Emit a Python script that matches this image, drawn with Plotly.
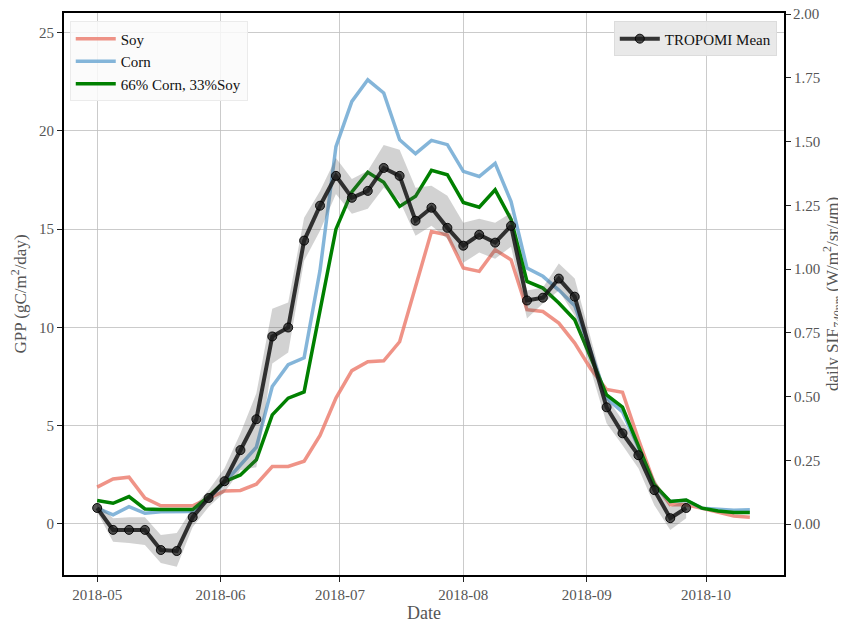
import plotly.graph_objects as go

dates = ["2018-05-01", "2018-05-05", "2018-05-09", "2018-05-13", "2018-05-17", "2018-05-21",
         "2018-05-25", "2018-05-29", "2018-06-02", "2018-06-06", "2018-06-10", "2018-06-14",
         "2018-06-18", "2018-06-22", "2018-06-26", "2018-06-30", "2018-07-04", "2018-07-08",
         "2018-07-12", "2018-07-16", "2018-07-20", "2018-07-24", "2018-07-28", "2018-08-01",
         "2018-08-05", "2018-08-09", "2018-08-13", "2018-08-17", "2018-08-21", "2018-08-25",
         "2018-08-29", "2018-09-02", "2018-09-06", "2018-09-10", "2018-09-14", "2018-09-18",
         "2018-09-22", "2018-09-26", "2018-09-30", "2018-10-04", "2018-10-08", "2018-10-12"]

soy_gpp = [1.87, 2.29, 2.38, 1.31, 0.92, 0.92, 0.92, 1.30, 1.68, 1.70, 2.02, 2.92,
           2.92, 3.19, 4.50, 6.40, 7.80, 8.25, 8.30, 9.27, 12.1, 14.88, 14.70, 13.02,
           12.85, 13.95, 13.44, 10.90, 10.81, 10.22, 9.20, 7.90, 6.84, 6.70, 4.30, 2.07,
           0.97, 0.97, 0.80, 0.60, 0.40, 0.34]

corn_gpp = [0.80, 0.46, 0.88, 0.54, 0.62, 0.63, 0.63, 1.30, 2.10, 3.00, 3.90, 6.99,
            8.10, 8.45, 12.9, 19.20, 21.50, 22.60, 21.93, 19.55, 18.84, 19.52, 19.30, 17.94,
            17.68, 18.35, 16.40, 13.02, 12.60, 11.90, 11.10, 8.80, 6.40, 5.70, 3.90, 1.90,
            1.14, 1.20, 0.80, 0.75, 0.70, 0.72]

mix_gpp = [1.19, 1.05, 1.39, 0.76, 0.73, 0.73, 0.73, 1.39, 2.15, 2.49, 3.26, 5.55,
           6.40, 6.72, 10.9, 15.00, 16.90, 17.89, 17.38, 16.16, 16.67, 17.99, 17.77, 16.36,
           16.12, 17.00, 15.50, 12.34, 12.00, 11.24, 10.39, 8.50, 6.57, 5.94, 3.94, 1.99,
           1.14, 1.22, 0.80, 0.66, 0.58, 0.58]

tropomi_sif = [0.063, -0.023, -0.023, -0.023, -0.102, -0.106, 0.027, 0.102, 0.168, 0.290,
               0.411, 0.736, 0.771, 1.112, 1.249, 1.366, 1.280, 1.307, 1.397, 1.366,
               1.190, 1.241, 1.162, 1.092, 1.135, 1.104, 1.170, 0.877, 0.888, 0.963,
               0.892, None, 0.458, 0.356, 0.270, 0.133, 0.023, 0.063]

tropomi_upper = [0.082, 0.023, 0.027, 0.027, -0.043, -0.035, 0.063, 0.133, 0.219, 0.356,
                 0.513, 0.845, 0.869, 1.202, 1.307, 1.436, 1.354, 1.386, 1.487, 1.468,
                 1.319, 1.327, 1.288, 1.182, 1.198, 1.182, 1.221, 0.916, 0.928, 1.022,
                 0.963, None, 0.497, 0.407, 0.309, 0.180, 0.067, 0.094]

tropomi_lower = [0.047, -0.070, -0.074, -0.082, -0.153, -0.168, -0.012, 0.067, 0.125, 0.211,
                 0.223, 0.630, 0.673, 1.033, 1.151, 1.295, 1.217, 1.237, 1.319, 1.268,
                 1.131, 1.170, 1.119, 1.025, 1.065, 1.041, 1.088, 0.806, 0.865, 0.916,
                 0.818, None, 0.395, 0.309, 0.219, 0.074, -0.023, 0.023]

gpp_ticks = [0, 5, 10, 15, 20, 25]
sif_ticks = [0.0, 0.25, 0.5, 0.75, 1.0, 1.25, 1.5, 1.75, 2.0]
sif_top_tick = 2.0
date_ticks = ["2018-05-01", "2018-06-01", "2018-07-01", "2018-08-01", "2018-09-01", "2018-10-01"]

# keep only valid TROPOMI observations
valid = [i for i, v in enumerate(tropomi_sif) if v is not None]
t_dates = [dates[i] for i in valid]
t_mean = [tropomi_sif[i] for i in valid]
t_up = [tropomi_upper[i] for i in valid]
t_lo = [tropomi_lower[i] for i in valid]

FONT = "Liberation Serif"
GRAY = "#555555"

fig = go.Figure()

fig.add_trace(go.Scatter(x=dates, y=soy_gpp, mode="lines", name="Soy",
                         line=dict(color="rgba(235,120,105,0.8)", width=3.5),
                         legend="legend"))
fig.add_trace(go.Scatter(x=dates, y=corn_gpp, mode="lines", name="Corn",
                         line=dict(color="rgba(110,168,210,0.85)", width=3.5),
                         legend="legend"))
fig.add_trace(go.Scatter(x=dates, y=mix_gpp, mode="lines", name="66% Corn, 33%Soy",
                         line=dict(color="#008000", width=3.5),
                         legend="legend"))

fig.add_trace(go.Scatter(x=t_dates, y=t_lo, mode="lines", yaxis="y2",
                         line=dict(width=0, color="rgba(0,0,0,0)"),
                         showlegend=False, hoverinfo="skip"))
fig.add_trace(go.Scatter(x=t_dates, y=t_up, mode="lines", yaxis="y2",
                         line=dict(width=0, color="rgba(0,0,0,0)"),
                         fill="tonexty", fillcolor="rgba(80,80,80,0.26)",
                         showlegend=False, hoverinfo="skip"))
fig.add_trace(go.Scatter(x=t_dates, y=t_mean, mode="lines+markers", yaxis="y2",
                         name="TROPOMI Mean",
                         line=dict(color="rgba(20,20,20,0.85)", width=4),
                         marker=dict(symbol="circle", size=9, color="rgba(30,30,30,0.75)",
                                     line=dict(color="rgba(0,0,0,0.9)", width=1)),
                         legend="legend2"))

# top tick label of the right axis (plotly hides it because it touches the page edge)
fig.add_annotation(x=1, xref="paper", xanchor="left", xshift=7,
                   y=sif_top_tick, yref="y2", yanchor="middle",
                   text=f"{sif_top_tick:.2f}", showarrow=False,
                   font=dict(family=FONT, size=15, color=GRAY))

# the page body adds an 8px offset, so the figure is sized 8px smaller
fig.update_layout(
    width=838, height=615,
    margin=dict(l=56, r=62, t=5, b=48, autoexpand=False),
    paper_bgcolor="white", plot_bgcolor="white",
    font=dict(family=FONT, size=15, color=GRAY),
    xaxis=dict(
        type="date",
        range=["2018-04-22 16:00", "2018-10-20 14:00"],
        tickvals=date_ticks, tickformat="%Y-%m",
        showgrid=True, gridcolor="rgba(190,190,190,0.8)", gridwidth=1,
        showline=True, linecolor="black", linewidth=2, mirror=True,
        ticks="outside", ticklen=5, tickcolor="#222", tickwidth=1,
        tickfont=dict(family=FONT, size=15, color=GRAY),
        title=dict(text="Date", font=dict(family=FONT, size=18, color=GRAY), standoff=12),
        zeroline=False, automargin=False,
    ),
    yaxis=dict(
        range=[-2.6, 26.0],
        tickvals=gpp_ticks,
        showgrid=True, gridcolor="rgba(190,190,190,0.8)", gridwidth=1,
        showline=True, linecolor="black", linewidth=2,
        ticks="outside", ticklen=5, tickcolor="#222", tickwidth=1,
        tickfont=dict(family=FONT, size=15, color=GRAY),
        title=dict(text="GPP (gC/m<sup>2</sup>/day)", font=dict(family=FONT, size=17, color=GRAY),
                   standoff=10),
        zeroline=False, automargin=False,
    ),
    yaxis2=dict(
        overlaying="y", side="right",
        range=[-0.2, 2.005],
        tickvals=sif_ticks, tickformat=".2f",
        showgrid=False,
        showline=True, linecolor="black", linewidth=2,
        ticks="outside", ticklen=5, tickcolor="#222", tickwidth=1,
        tickfont=dict(family=FONT, size=15, color=GRAY),
        title=dict(text="daily SIF<sub><i>740nm</i></sub> (W/m<sup>2</sup>/sr/<i>μ</i>m)",
                   font=dict(family=FONT, size=17, color=GRAY), standoff=4),
        zeroline=False, automargin=False,
    ),
    legend=dict(
        x=0.008, y=0.985, xanchor="left", yanchor="top",
        bgcolor="rgba(250,250,250,0.85)", bordercolor="rgba(235,235,235,1)", borderwidth=1,
        font=dict(family=FONT, size=15, color="#111"),
        traceorder="normal", tracegroupgap=0, itemwidth=40,
    ),
    legend2=dict(
        x=0.99, y=0.985, xanchor="right", yanchor="top",
        bgcolor="rgba(232,232,232,0.95)", bordercolor="rgba(220,220,220,1)", borderwidth=1,
        font=dict(family=FONT, size=15, color="#111"),
        traceorder="normal", itemwidth=40,
    ),
    showlegend=True,
)

fig.write_html("out.html")
